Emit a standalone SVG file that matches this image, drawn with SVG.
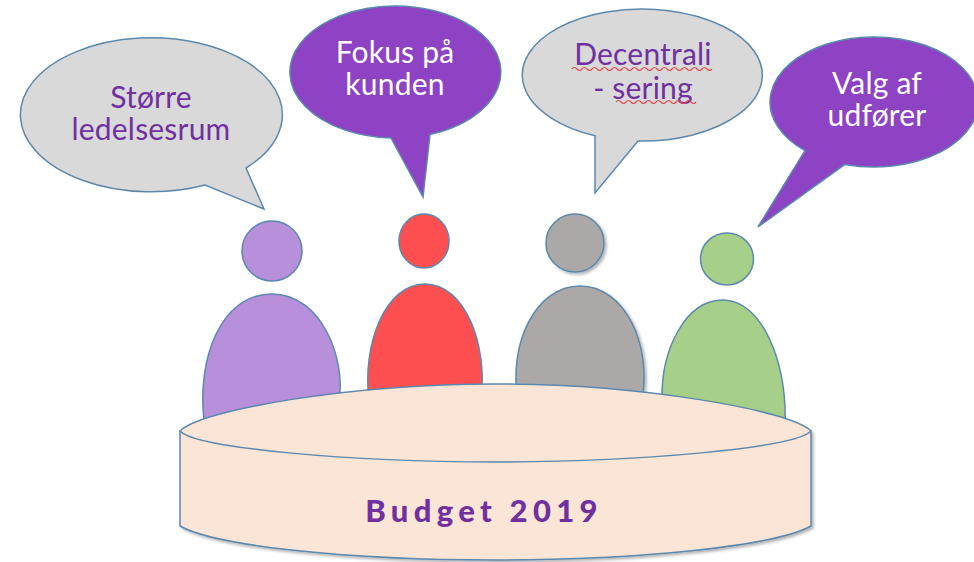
<svg xmlns="http://www.w3.org/2000/svg" width="974" height="562" viewBox="0 0 974 562">
<style>
.s{stroke:#5b88ad;stroke-width:1.5}
.g{fill:#d9d9d9}
.p{fill:#8d43c3}
.t{font-family:"Lato","Noto Sans",sans-serif;font-size:30px;letter-spacing:0.2px;text-anchor:middle}
.d{fill:#7030a0}
.w{fill:#ffffff}
.sq{fill:none;stroke:#e8474c;stroke-width:1.2}
</style>
<defs>
<filter id="sh" x="-5%" y="-5%" width="110%" height="115%"><feDropShadow dx="2" dy="2" stdDeviation="1.5" flood-color="#000" flood-opacity="0.3"/></filter>
</defs>
<g id="person-purple">
<path class="s" d="M204,420 C197,360 220,294 272,294 C322,294 346,360 339,400 L339,430 L204,430 Z" fill="#b88fdb"/>
<circle class="s" cx="272" cy="251" r="30" fill="#b88fdb"/>
</g>
<g id="person-red">
<path class="s" d="M369,400 C362,345 385,284 425,284 C465,284 488,345 481,400 Z" fill="#fe4f50"/>
<ellipse class="s" cx="424" cy="241" rx="25" ry="27" fill="#fe4f50"/>
</g>
<g id="person-gray" filter="url(#sh)">
<path class="s" d="M518,400 C508,345 535,286 580,286 C625,286 652,345 642,400 Z" fill="#aca8a8"/>
<circle class="s" cx="575" cy="243" r="29" fill="#aca8a8"/>
</g>
<g id="person-green">
<path class="s" d="M662,400 C661,350 685,300 723,300 C761,300 788,360 785,430 L662,430 Z" fill="#a6cf8a"/>
<ellipse class="s" cx="727" cy="259" rx="26.500" ry="26" fill="#a6cf8a"/>
</g>
<g id="table">
<path class="s" filter="url(#sh)" d="M180,431 V526 C215,546 350,560 495,560 C640,560 775,546 811,526 V431 Z" fill="#fbe5d6"/>
<path class="s" d="M180,431 C200,410 350,384 495,384 C640,384 790,410 811,431 C795,448 640,462 495,462 C350,462 195,448 180,431 Z" fill="#fbe5d6"/>
<text x="484" y="522" font-family="Lato,'Liberation Sans',sans-serif" font-weight="900" font-size="31" letter-spacing="5.300" text-anchor="middle" fill="#7030a0">Budget 2019</text>
</g>
<g id="bubble-1">
<path class="s g" d="M246,168 A131,77 0 1 0 205,185 L264,209 Z"/>
<text class="t d"><tspan x="151" y="108">Større</tspan><tspan x="151" y="140">ledelsesrum</tspan></text>
</g>
<g id="bubble-2">
<path class="s p" d="M391,138 A105.500,66 0 1 1 430,134.400 L423,197 Z"/>
<text class="t w"><tspan x="395" y="63">Fokus på</tspan><tspan x="395" y="95">kunden</tspan></text>
</g>
<g id="bubble-3">
<path class="s g" d="M595,135.700 A120,66 0 1 1 638,141 L595,193 Z"/>
<text class="t d"><tspan x="643" y="65">Decentrali</tspan><tspan x="643" y="99">- sering</tspan></text>
<path class="sq" d="M572,69 q2.500,-3 5,0 t5,0 t5,0 t5,0 t5,0 t5,0 t5,0 t5,0 t5,0 t5,0 t5,0 t5,0 t5,0 t5,0 t5,0 t5,0 t5,0 t5,0 t5,0 t5,0 t5,0 t5,0 t5,0 t5,0 t5,0 t5,0 t5,0 t5,0"/>
<path class="sq" d="M616,102 q2.500,-3 5,0 t5,0 t5,0 t5,0 t5,0 t5,0 t5,0 t5,0 t5,0 t5,0 t5,0 t5,0 t5,0 t5,0 t5,0 t5,0"/>
</g>
<g id="bubble-4">
<path class="s p" d="M805,150.600 A104,65 0 1 1 845,164.400 L758,227 Z"/>
<text class="t w"><tspan x="877" y="94">Valg af</tspan><tspan x="877" y="126">udfører</tspan></text>
</g>
</svg>
